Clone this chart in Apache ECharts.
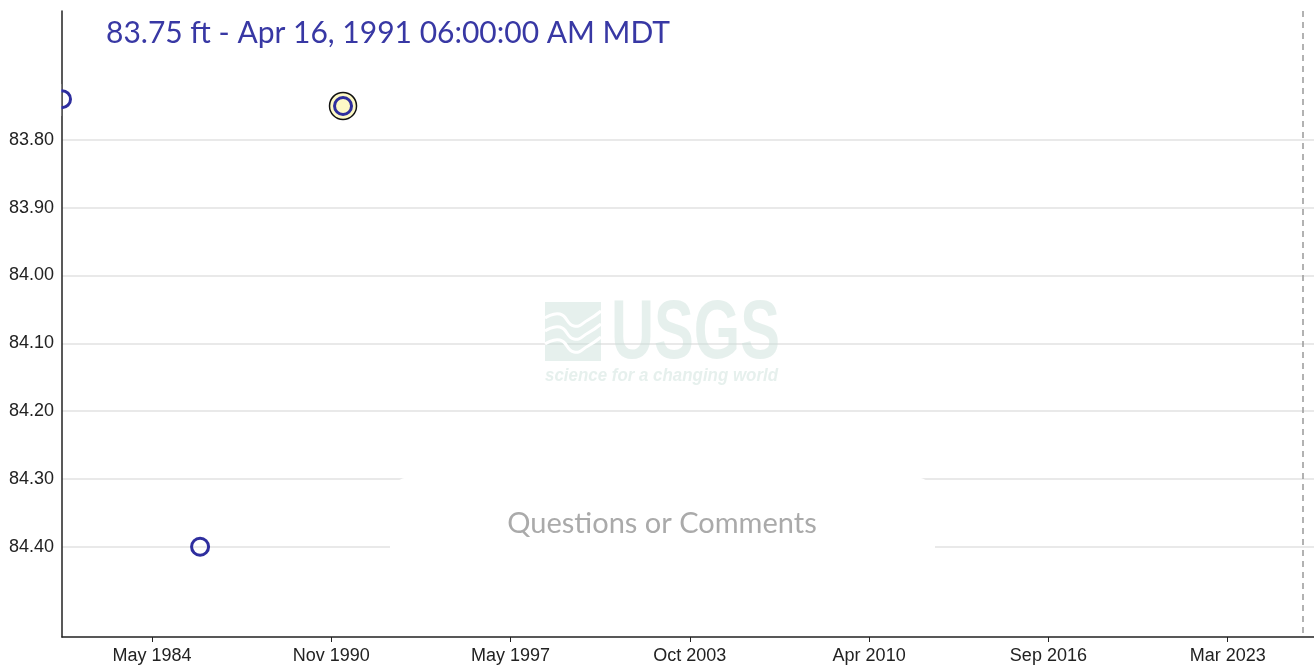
<!DOCTYPE html>
<html>
<head>
<meta charset="utf-8">
<script src="https://cdn.jsdelivr.net/npm/echarts@6/dist/echarts.min.js"></script>
<style>
  html, body { margin: 0; padding: 0; background: #fff; }
  #chart { width: 1314px; height: 665px; }
</style>
</head>
<body>
<div id="chart"></div>
<script>
// depth to water level (ft below land surface)
const dates = ['1981-02-23', '1986-02-17', '1991-04-16 06:00'];
const depths = [83.74, 84.40, 83.75];
const selectedIndex = 2;

const tickDates = ['1984-05-25', '1990-11-13', '1997-05-03', '2003-10-22', '2010-04-11', '2016-09-29', '2023-03-20'];
const yTicks = [83.8, 83.9, 84.0, 84.1, 84.2, 84.3, 84.4];
const xRange = ['1981-02-23', '2026-05-01'];
const yRange = [83.61, 84.533];
const todayDate = '2025-12-03';
const titleText = '83.75 ft - Apr 16, 1991 06:00:00 AM MDT';

const months = ['Jan', 'Feb', 'Mar', 'Apr', 'May', 'Jun', 'Jul', 'Aug', 'Sep', 'Oct', 'Nov', 'Dec'];
const t = s => echarts.time.parse(s).getTime();

const chart = echarts.init(document.getElementById('chart'));

const pointData = dates.map((d, i) => [t(d), depths[i]]);
const tickValues = tickDates.map(t);

const logoFill = 'rgba(200,222,216,0.45)';
// white wave strokes across the logo block
const waves = [0, 13, 26].map(dy => ({
  type: 'polyline', z: 1, silent: true,
  shape: { points: [[545, 318 + dy], [560, 314 + dy], [574, 326 + dy], [588, 320 + dy], [601, 311 + dy]], smooth: 0.5 },
  style: { fill: 'none', stroke: '#fff', lineWidth: 3 }
}));

chart.setOption({
  animation: false,
  backgroundColor: '#fff',
  title: {
    text: titleText,
    left: 101,
    top: 13,
    textStyle: { color: '#3838a4', fontSize: 30, fontWeight: 'normal', fontFamily: 'Lato' }
  },
  grid: { left: 62, right: 0, top: 11, bottom: 28, outerBoundsMode: 'none' },
  xAxis: {
    type: 'value',
    min: t(xRange[0]),
    max: t(xRange[1]),
    axisLine: { lineStyle: { color: '#222', width: 1.5 } },
    axisTick: { show: true, length: 5, customValues: tickValues, lineStyle: { color: '#222' } },
    axisLabel: {
      customValues: tickValues,
      color: '#222',
      fontSize: 18,
      fontFamily: 'Liberation Sans',
      margin: 10,
      formatter: v => {
        const d = new Date(v);
        return months[d.getMonth()] + ' ' + d.getFullYear();
      }
    },
    splitLine: { show: false }
  },
  yAxis: {
    type: 'value',
    inverse: true,
    min: yRange[0],
    max: yRange[1],
    axisLine: { show: true, lineStyle: { color: '#222', width: 1.5 } },
    axisTick: { show: false, customValues: yTicks },
    axisLabel: {
      customValues: yTicks,
      color: '#222',
      fontSize: 18,
      fontFamily: 'Liberation Sans',
      margin: 8,
      formatter: v => v.toFixed(2)
    },
    splitLine: { show: true, lineStyle: { color: '#e2e2e2', width: 1.5 } }
  },
  graphic: [
    // USGS watermark
    { type: 'rect', z: 1, silent: true, shape: { x: 545, y: 302, width: 56, height: 59 }, style: { fill: logoFill } },
    ...waves,
    { type: 'text', z: 1, silent: true, x: 611, y: 335, scaleX: 0.71,
      style: { text: 'USGS', fill: logoFill, font: 'bold 84px "Liberation Sans"', verticalAlign: 'middle' } },
    { type: 'text', z: 1, silent: true, x: 545, y: 376, scaleX: 0.89,
      style: { text: 'science for a changing world', fill: logoFill, font: 'italic bold 19px "Liberation Sans"', verticalAlign: 'middle' } },
    // hides the part of the first marker left of the y axis
    { type: 'rect', z: 5, silent: true, shape: { x: 40, y: 84, width: 21.2, height: 32 }, style: { fill: '#fff' } },
    // questions box
    { type: 'rect', z: 10, silent: true, shape: { x: 390, y: 477, width: 545, height: 92, r: 20 }, style: { fill: '#fff' } },
    { type: 'text', z: 11, silent: true, x: 662, y: 524,
      style: { text: 'Questions or Comments', fill: '#aaa', font: '29px "Lato"', align: 'center', verticalAlign: 'middle' } }
  ],
  series: [
    {
      type: 'scatter',
      name: 'selected',
      z: 2,
      clip: true,
      symbol: 'circle',
      symbolSize: 27,
      data: [pointData[selectedIndex]],
      itemStyle: { color: '#fdf9c6', borderColor: '#111', borderWidth: 1.5, opacity: 1 },
      markLine: {
        silent: true,
        symbol: 'none',
        label: { show: false },
        lineStyle: { color: '#999', type: [6, 5], width: 1.5 },
        data: [{ xAxis: t(todayDate) }]
      }
    },
    {
      type: 'scatter',
      name: 'Depth to water level',
      z: 3,
      clip: true,
      symbol: 'circle',
      symbolSize: 17,
      data: pointData,
      itemStyle: { color: 'rgba(255,255,255,0)', borderColor: '#2e2e9e', borderWidth: 3, opacity: 1 }
    }
  ]
});
</script>
</body>
</html>
